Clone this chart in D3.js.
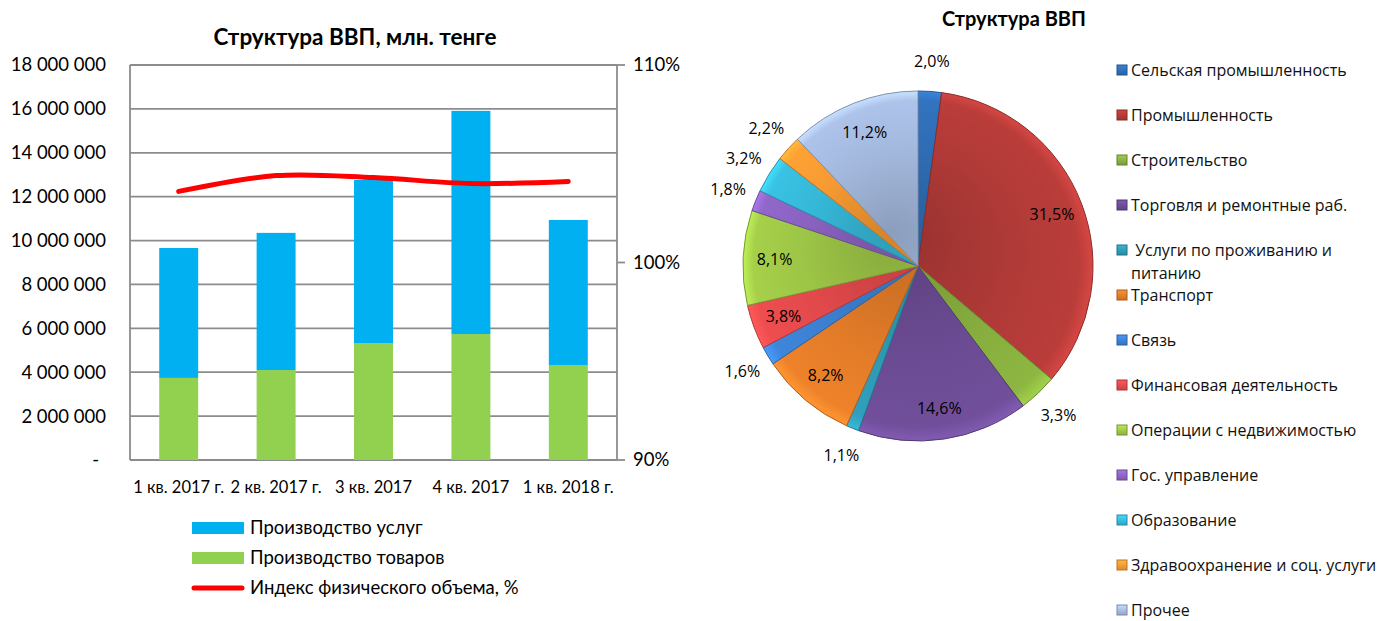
<!DOCTYPE html>
<html>
<head>
<meta charset="utf-8">
<script src="https://cdn.jsdelivr.net/npm/d3@7"></script>
<style>
	body { margin: 0; background: #fff; }
	svg { display: block; font-family: Lato, sans-serif; }
	.tick-label { font-size: 18.5px; fill: #000; }
	.pie-label { font-size: 16px; fill: #000; font-family: "Open Sans", sans-serif; }
	.legend-right { font-size: 16px; fill: #111; font-family: "Open Sans", sans-serif; white-space: pre; }
</style>
</head>
<body>
<svg id="chart" width="1382" height="621"></svg>
<script>
// bar chart data
const quarters = ['1 кв. 2017 г.', '2 кв. 2017 г.', '3 кв. 2017', '4 кв. 2017', '1 кв. 2018 г.'];
const goods = [3740000, 4100000, 5330000, 5740000, 4330000];
const services = [5920000, 6250000, 7430000, 10170000, 6610000];
const volumeIndex = [103.6, 104.4, 104.3, 104.0, 104.1];
const leftTicks = [0, 2000000, 4000000, 6000000, 8000000, 10000000, 12000000, 14000000, 16000000, 18000000];
const rightTicks = [90, 100, 110];
const barLegend = ['Производство услуг', 'Производство товаров', 'Индекс физического объема, %'];

// pie data
const sectors = ['Сельская промышленность', 'Промышленность', 'Строительство', 'Торговля и ремонтные раб.',
	' Услуги по проживанию и питанию', 'Транспорт', 'Связь', 'Финансовая деятельность',
	'Операции с недвижимостью', 'Гос. управление', 'Образование', 'Здравоохранение и соц. услуги', 'Прочее'];
const shares = [2.0, 31.5, 3.3, 14.6, 1.1, 8.2, 1.6, 3.8, 8.1, 1.8, 3.2, 2.2, 11.2];
const sectorColours = ['#2f6db5', '#b03a37', '#86ad3e', '#6b4b93', '#2e98b2', '#e27b28',
	'#3b7fd0', '#e2494b', '#9dc546', '#8a62c0', '#36b8d8', '#f79a32', '#a4b9de'];

const COL_SERVICES = '#00b0f0';
const COL_GOODS = '#92d050';
const COL_LINE = '#ff0000';
const GRID = '#8c8c8c';

const svg = d3.select('#chart');
const fmt = d3.formatLocale({ decimal: ',', thousands: ' ', grouping: [3], currency: ['', ''] });
const fmtBig = fmt.format(',');
const fmtPct = fmt.format('.1f');

const plot = { left: 130, right: 617, top: 65, bottom: 460 };

drawBarChart();
drawPie();

function drawBarChart() {
	const x = d3.scaleBand()
		.domain(quarters)
		.range([plot.left, plot.right])
		.paddingInner(0.6)
		.paddingOuter(0.3);
	const y = d3.scaleLinear()
		.domain([0, 18000000])
		.range([plot.bottom, plot.top]);
	const y2 = d3.scaleLinear()
		.domain([90, 110])
		.range([plot.bottom, plot.top]);

	svg.append('text')
		.attr('x', 355).attr('y', 45)
		.attr('text-anchor', 'middle')
		.style('font-size', '22.5px').style('font-weight', 'bold')
		.text('Структура ВВП, млн. тенге');

	// gridlines
	svg.append('g').selectAll('line')
		.data(leftTicks)
		.enter().append('line')
			.attr('x1', plot.left).attr('x2', plot.right)
			.attr('y1', d => y(d)).attr('y2', d => y(d))
			.attr('stroke', GRID).attr('stroke-width', 1.8);

	// left & right borders
	[plot.left, plot.right].forEach(px => {
		svg.append('line')
			.attr('x1', px).attr('x2', px)
			.attr('y1', plot.top).attr('y2', plot.bottom)
			.attr('stroke', GRID).attr('stroke-width', 1.8);
	});

	// left tick labels
	svg.append('g').selectAll('text')
		.data(leftTicks)
		.enter().append('text')
			.attr('class', 'tick-label')
			.attr('x', d => d === 0 ? 99 : 106)
			.attr('y', d => y(d))
			.attr('dy', '0.35em')
			.attr('text-anchor', 'end')
			.text(d => d === 0 ? '-' : fmtBig(d));

	// right axis ticks + labels
	const right = svg.append('g');
	right.selectAll('line')
		.data(rightTicks)
		.enter().append('line')
			.attr('x1', plot.right).attr('x2', plot.right + 8)
			.attr('y1', d => y2(d)).attr('y2', d => y2(d))
			.attr('stroke', GRID).attr('stroke-width', 1.8);
	right.selectAll('text')
		.data(rightTicks)
		.enter().append('text')
			.attr('class', 'tick-label')
			.attr('x', plot.right + 16)
			.attr('y', d => y2(d))
			.attr('dy', '0.35em')
			.text(d => d + '%');

	// x labels
	svg.append('g').selectAll('text')
		.data(quarters)
		.enter().append('text')
			.attr('x', d => x(d) + x.bandwidth() / 2)
			.attr('y', 487)
			.attr('dy', '0.35em')
			.attr('text-anchor', 'middle')
			.style('font-size', '16.5px')
			.text(d => d);

	// stacked bars
	const bars = svg.append('g');
	bars.selectAll('.goods')
		.data(quarters)
		.enter().append('rect')
			.attr('class', 'goods')
			.attr('x', d => x(d))
			.attr('width', x.bandwidth())
			.attr('y', (d, i) => y(goods[i]))
			.attr('height', (d, i) => y(0) - y(goods[i]))
			.attr('fill', COL_GOODS);
	bars.selectAll('.services')
		.data(quarters)
		.enter().append('rect')
			.attr('class', 'services')
			.attr('x', d => x(d))
			.attr('width', x.bandwidth())
			.attr('y', (d, i) => y(goods[i] + services[i]))
			.attr('height', (d, i) => y(goods[i]) - y(goods[i] + services[i]))
			.attr('fill', COL_SERVICES);

	// smoothed index line
	const line = d3.line()
		.x((d, i) => x(quarters[i]) + x.bandwidth() / 2)
		.y(d => y2(d))
		.curve(d3.curveCatmullRom.alpha(0.5));
	svg.append('path')
		.datum(volumeIndex)
		.attr('d', line)
		.attr('fill', 'none')
		.attr('stroke', COL_LINE)
		.attr('stroke-width', 5)
		.attr('stroke-linecap', 'round');

	// legend
	const lg = svg.append('g').attr('transform', 'translate(192,0)');
	const rows = [528, 558, 588];
	lg.append('rect').attr('x', 0).attr('y', rows[0] - 6).attr('width', 52).attr('height', 12).attr('fill', COL_SERVICES);
	lg.append('rect').attr('x', 0).attr('y', rows[1] - 6).attr('width', 52).attr('height', 12).attr('fill', COL_GOODS);
	lg.append('line').attr('x1', 2).attr('x2', 50).attr('y1', rows[2]).attr('y2', rows[2])
		.attr('stroke', COL_LINE).attr('stroke-width', 5).attr('stroke-linecap', 'round');
	lg.selectAll('text')
		.data(barLegend)
		.enter().append('text')
			.attr('x', 58)
			.attr('y', (d, i) => rows[i])
			.attr('dy', '0.35em')
			.style('font-size', '18.5px')
			.text(d => d);
}

function drawPie() {
	const cx = 918, cy = 266, r = 175;
	const defs = svg.append('defs');

	// one radial gradient per slice: darker at the centre, lit rim
	sectorColours.forEach((c, i) => {
		const grad = defs.append('radialGradient')
			.attr('id', 'slice-' + i)
			.attr('gradientUnits', 'userSpaceOnUse')
			.attr('cx', 0).attr('cy', 0).attr('r', r)
			.attr('fx', -r * 0.15).attr('fy', -r * 0.2);
		grad.append('stop').attr('offset', '0').attr('stop-color', d3.color(c).darker(0.45));
		grad.append('stop').attr('offset', '0.6').attr('stop-color', c);
		grad.append('stop').attr('offset', '0.93').attr('stop-color', d3.color(c).brighter(0.15));
		grad.append('stop').attr('offset', '1').attr('stop-color', d3.color(c).brighter(0.55));

		const sq = defs.append('linearGradient')
			.attr('id', 'sq-' + i)
			.attr('x1', 0).attr('y1', 0).attr('x2', 0).attr('y2', 1);
		sq.append('stop').attr('offset', '0').attr('stop-color', d3.color(c).brighter(0.5));
		sq.append('stop').attr('offset', '1').attr('stop-color', d3.color(c).darker(0.3));
	});

	svg.append('text')
		.attr('x', 1014).attr('y', 26)
		.attr('text-anchor', 'middle')
		.style('font-size', '20px').style('font-weight', 'bold')
		.text('Структура ВВП');

	const pie = d3.pie().sort(null).value(d => d);
	const arcs = pie(shares);
	const arc = d3.arc().innerRadius(0).outerRadius(r);

	const g = svg.append('g').attr('transform', `translate(${cx},${cy})`);
	g.selectAll('.slice')
		.data(arcs)
		.enter().append('path')
			.attr('class', 'slice')
			.attr('d', arc)
			.attr('fill', (d, i) => `url(#slice-${i})`)
			.attr('stroke', (d, i) => d3.color(sectorColours[i]).darker(0.7))
			.attr('stroke-width', 1);

	// labels: small slices outside, others inside
	const inner = d3.arc().innerRadius(r * 0.82).outerRadius(r * 0.82);
	const outer = d3.arc().innerRadius(r * 1.17).outerRadius(r * 1.17);
	g.selectAll('.pie-label')
		.data(arcs)
		.enter().append('text')
			.attr('class', 'pie-label')
			.attr('transform', d => `translate(${(d.data < 3.5 ? outer : inner).centroid(d)})`)
			.attr('text-anchor', 'middle')
			.attr('dy', '0.35em')
			.text(d => fmtPct(d.data) + '%');

	// legend
	const lg = svg.append('g').attr('transform', 'translate(1117,70)');
	const item = lg.selectAll('g')
		.data(sectors)
		.enter().append('g')
			.attr('transform', (d, i) => `translate(0,${i * 45})`);
	item.append('rect')
		.attr('x', 0).attr('y', -5).attr('width', 10).attr('height', 10)
		.attr('fill', (d, i) => `url(#sq-${i})`)
		.attr('stroke', (d, i) => d3.color(sectorColours[i]).darker(0.8))
		.attr('stroke-width', 1);
	item.append('text')
		.attr('class', 'legend-right')
		.attr('x', 14)
		.attr('dy', '0.35em')
		.each(function(d) {
			// wrap long labels onto a second line
			const t = d3.select(this);
			const words = d.split(' ');
			let lineText = '';
			let tspan = t.append('tspan').attr('x', 14);
			words.forEach((w, k) => {
				const test = k === 0 ? w : lineText + ' ' + w;
				tspan.text(test);
				if (tspan.node().getComputedTextLength() > 258 && lineText.trim()) {
					tspan.text(lineText);
					tspan = t.append('tspan').attr('x', 14).attr('dy', '1.45em').text(w);
					lineText = w;
				} else {
					lineText = test;
				}
			});
		});
}
</script>
</body>
</html>
